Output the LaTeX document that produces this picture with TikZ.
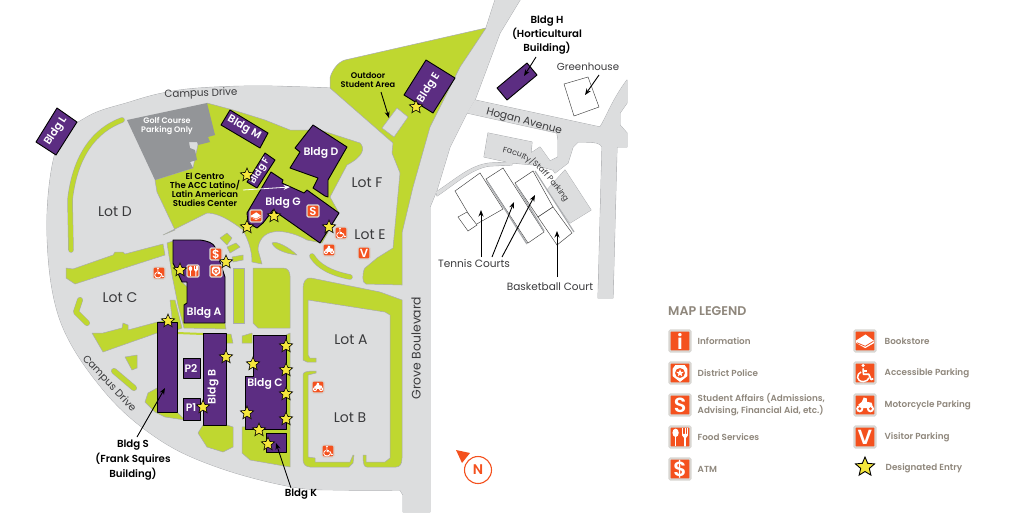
\documentclass[tikz,border=0pt]{standalone}
\usepackage{fontspec}
\setmainfont{Poppins}[BoldFont={Poppins SemiBold}]
\usetikzlibrary{shapes.geometric,arrows.meta,decorations.text}
\definecolor{roadgray}{HTML}{DCDDDE}
\definecolor{edgegray}{HTML}{A9ABAE}
\definecolor{golfgray}{HTML}{939598}
\definecolor{lawn}{HTML}{BFD730}
\definecolor{purp}{HTML}{5C2D82}
\definecolor{orng}{HTML}{F4511E}
\definecolor{boxrim}{HTML}{D8D6D2}
\definecolor{starfill}{HTML}{F5E63C}
\definecolor{legendtxt}{HTML}{8F877C}
\definecolor{mapink}{HTML}{3A3A3C}
\newcommand{\fsz}[1]{\fontsize{#1}{#1}\selectfont}
\tikzset{
  x=1pt,y=-1pt,
  lawnshape/.style={fill=lawn,draw=edgegray,line width=.5pt,line join=round},
  stripline/.style={line cap=round,line join=round},
  bldg/.style={fill=purp,draw=black,line width=.9pt,line join=round},
  bldgtxt/.style={text=white,font=\bfseries\fsz{10.8},inner sep=0pt},
  lottxt/.style={text=mapink,font=\fsz{14},inner sep=0pt},
  roadtxt/.style={text=mapink,font=\fsz{10.3},inner sep=0pt},
  labeltxt/.style={text=black,font=\bfseries\fsz{8.6},align=center,inner sep=0pt},
  outline/.style={fill=white,draw=black!75,line width=.45pt},
  pointer/.style={draw=black,line width=.9pt,-{Stealth[length=6.5pt,width=5pt]}},
  entry/.style={star,star points=5,star point ratio=2.2,minimum size=14pt,inner sep=0pt,fill=starfill,draw=black,line width=.6pt},
  iconbox/.style={fill=orng,draw=boxrim,rounded corners=1.2pt,inner sep=0pt},
  legtxt/.style={text=legendtxt,font=\bfseries\fsz{8.8},anchor=west,inner sep=0pt,align=left},
}
\newcommand{\gletter}[1]{\node[text=white,inner sep=0pt,font=\bfseries\fsz{\icf}] (\icn g) at (0,0) {#1};}
\newcommand{\glS}{\gletter{S}}
\newcommand{\glV}{\gletter{V}}
\newcommand{\gli}{\gletter{i}}
\newcommand{\gldollar}{\gletter{\$}}
\newcommand{\glbook}{%
  \fill[white] (-.85,-.05) -- (.05,-.62) -- (.85,-.02) -- (.85,.2) -- (.02,.68) -- (-.85,.18) -- cycle;
  \draw[orng,line width=\icr*.07pt] (-.78,.16) -- (.02,.5) -- (.8,.02);}
\newcommand{\glpolice}{%
  \fill[white] (-.45,-.75) -- (.45,-.75) -- (.7,-.4) -- (.7,.3) -- (0,.85) -- (-.7,.3) -- (-.7,-.4) -- cycle;
  \fill[orng] (0,0) circle[radius=.47];
  \fill[white] (0,-.36) -- (.1,-.1) -- (.36,-.1) -- (.15,.08) -- (.22,.33) -- (0,.17) -- (-.22,.33) -- (-.15,.08) -- (-.36,-.1) -- (-.1,-.1) -- cycle;}
\newcommand{\glfood}{%
  \fill[white] (-.42,-.4) circle[x radius=.3,y radius=.4];
  \fill[white] (-.5,-.1) rectangle (-.34,.9);
  \fill[white] (.2,-.85) rectangle (.28,-.2);
  \fill[white] (.44,-.85) rectangle (.52,-.2);
  \fill[white] (.68,-.85) rectangle (.76,-.2);
  \fill[white] (.2,-.3) -- (.76,-.3) -- (.76,-.15) -- (.56,.1) -- (.56,.9) -- (.4,.9) -- (.4,.1) -- (.2,-.15) -- cycle;}
\newcommand{\glaccess}{%
  \fill[white] (-.18,-.72) circle[radius=.17];
  \draw[white,line width=\icr*.16pt,line join=round] (-.18,-.45) -- (-.15,.12) -- (.36,.12) -- (.58,.62) -- (.78,.55);
  \draw[white,line width=\icr*.13pt] (-.18,-.18) -- (.22,-.18);
  \draw[white,line width=\icr*.14pt] (-.38,-.1) .. controls (-.85,.1) and (-.85,.82) .. (-.15,.82) .. controls (.12,.82) and (.3,.65) .. (.38,.45);}
\newcommand{\glmoto}{%
  \fill[white] (-.5,.36) circle[radius=.34];
  \fill[white] (.52,.36) circle[radius=.34];
  \fill[orng] (-.5,.36) circle[radius=.15];
  \fill[orng] (.52,.36) circle[radius=.15];
  \fill[white] (-.65,-.02) -- (-.3,-.3) -- (-.12,-.72) -- (.18,-.62) -- (.18,-.3) -- (.62,-.22) -- (.72,.05) -- (.2,.3) -- (-.2,.3) -- cycle;}
\newcommand{\icon}[5]{%
  \pgfmathsetmacro{\icsize}{2*#4}\pgfmathsetmacro{\icf}{1.95*#4}%
  \pgfmathsetmacro{\icrim}{#4*.2}%
  \node[iconbox,minimum size=\icsize pt,line width=\icrim pt] (#1) at (#2,#3) {};
  \begin{scope}[shift={(#2,#3)},x=#4pt,y=-#4pt]
    \def\icn{#1}\def\icr{#4}%
    \csname gl#5\endcsname
  \end{scope}}
\newcommand{\roadshapes}[1]{%
  \path[#1] (495,0) -- (520,0) -- (500,33) -- (475,100) -- (467,113) -- (450,147) -- (437,190) -- (430,207) -- (430,512) -- (403,512) -- (403,495) -- (400,490)
     -- plot[smooth,tension=.6] coordinates {(400,490) (345,490) (293,487) (220,468) (160,440) (105,392) (60,320) (47,230) (57,147) (87,117) (130,102) (163,93) (200,88) (260,86) (330,88)}
     -- (486,28) -- cycle;
  \path[#1] (475,100) -- (600,127) .. controls (606,118) and (612,100) .. (627,80) -- (627,103) -- (620,113) -- (620,125) -- (627,133) -- (627,147) -- (617,147) -- (613,298) -- (598,298) -- (602,147) .. controls (600,143) and (598,142) .. (578,142) -- (573,147) -- (568,163) -- (555,173) -- (553,170) -- (558,160) -- (558,140) -- (557,133) -- (467,113) -- cycle;
  \path[#1] (484,157) -- (488,133) -- (532,142) -- (531,153) -- (540,147) -- (550,161) -- (558,157) -- (558,164) -- (553,170) -- (535,165) -- (512,163) -- cycle;
  \path[#1] (436,192) .. controls (455,180) and (470,165) .. (490,163) -- (512,162) -- (512,165) -- (490,166) .. controls (472,168) and (455,184) .. (437,196) -- cycle;
  \path[#1] (565,170) -- (591,210) -- (570,223) -- (547,190) -- cycle;
}
\begin{document}
\begin{tikzpicture}
\useasboundingbox (0,0) rectangle (1024,512);
\fill[white] (0,0) rectangle (1024,512);
% roads, first with an edge and then filled over so that the edges merge
\roadshapes{draw=edgegray,line width=.8pt,line join=round,fill=roadgray}
\roadshapes{fill=roadgray}
% upper lawn by Grove Boulevard
\path[lawnshape] (345,60) -- (486,28) -- (460,67) -- (430,127) -- (413,187) -- (402,233) -- (402,285) -- (366,284) .. controls (362,284) and (362,272) .. (365,268) -- (377,258) -- (393,248) -- (400,173) -- (392,153) -- (393,143) -- (330,88) -- (330,78) .. controls (332,70) and (338,62) .. (345,60) -- cycle;
\path[fill=roadgray,draw=edgegray,line width=.5pt] (397,108) -- (408,117) -- (394,137) -- (382,128) -- cycle;
% central lawn
\path[lawnshape] (207,103) -- (233,110) -- (265,120) -- (290,130) -- (320,130) -- (360,143) .. controls (365,148) and (364,156) .. (347,165) -- (330,197) -- (339,213) -- (322,243) -- (307,240) .. controls (295,233) and (280,230) .. (273,232) .. controls (265,233) and (258,240) .. (258,250) -- (262,264) -- (252,262) .. controls (252,250) and (248,240) .. (243,230) .. controls (230,220) and (218,213) .. (207,213) -- (163,235) -- (175,230) -- (157,192) -- (155,180) -- (193,168) -- cycle;
\path[fill=golfgray] (127,120) -- (207,103) -- (215,135) -- (208,137) -- (210,142) -- (198,145) -- (197,142) -- (189,142) -- (190,148) -- (195,150) -- (197,160) -- (190,162) -- (193,168) -- (155,180) -- cycle;
% Lot D and Lot C strips
\draw[edgegray,line width=5.5pt,stripline] (122,120) .. controls (95,130) and (75,155) .. (70,200) -- (71,250);
\draw[lawn,line width=4.5pt,stripline] (122,120) .. controls (95,130) and (75,155) .. (70,200) -- (71,250);
\path[lawnshape] (163,244) -- (165,255) -- (75,284) -- (66,278) -- (66,268) -- (73,269) -- (113,255) -- (115,252) -- (123,252) -- (125,254) -- cycle;
\draw[edgegray,line width=6pt,stripline] (80,300) -- (76,312) -- (87,323);
\draw[lawn,line width=5pt,stripline] (80,300) -- (76,312) -- (87,323);
\path[lawnshape] (125,357) -- (137,355) -- (137,368) -- (132,370) -- cycle;
\draw[edgegray,line width=6pt,stripline] (114,371) -- (134,388);
\draw[lawn,line width=5pt,stripline] (114,371) -- (134,388);
\path[lawnshape] (92,333) -- (103,333) -- (122,328) -- (123,323) -- (128,325) -- (128,330) -- (172,318) -- (170,300) -- (175,300) -- (182,328) -- (177,330) -- (157,333) -- (137,340) -- (103,352) -- cycle;
\path[lawnshape] (145,402) -- (148,393) -- (157,388) -- (177,412) -- (185,420) -- (165,417) -- (155,412) -- cycle;
\path[lawnshape] (157,388) -- (157,412) -- (177,412) -- cycle;
% lawns near Bldg A
\path[lawnshape] (167,243) -- (173,241) -- (173,263) -- (182,282) -- (225,323) -- (226,329) -- (184,328) -- (178,305) -- (172,275) -- cycle;
\path[lawnshape] (220,238) -- (227,233) -- (232,238) -- (227,245) -- cycle;
\path[lawnshape] (227,247) -- (236,243) -- (240,247) -- (230,253) -- cycle;
\path[lawnshape] (232,257) -- (243,255) -- (243,260) -- (233,262) -- cycle;
\path[lawnshape] (233,268) -- (244,268) -- (244,323) -- (233,323) -- cycle;
\path[lawnshape] (253,268) -- (283,268) .. controls (288,268) and (290,272) .. (290,276) -- (290,328) -- (258,328) -- (253,323) -- cycle;
\path[lawnshape] (272,243) .. controls (276,240) and (290,248) .. (297,255) .. controls (288,254) and (274,250) .. (272,243) -- cycle;
\draw[edgegray,line width=5.5pt,stripline] (312,256) .. controls (318,266) and (330,273) .. (350,277);
\draw[lawn,line width=4.5pt,stripline] (312,256) .. controls (318,266) and (330,273) .. (350,277);
% lawns by Bldg B and Bldg C
\draw[lawn,line width=2pt] (177,333) -- (203,334);
\path[lawnshape] (226,334) -- (231,334) -- (233,343) -- (226,343) -- cycle;
\path[lawnshape] (198,433) -- (203,425) -- (227,425) -- (233,427) -- (233,447) -- (223,452) -- (207,447) -- cycle;
\path[lawnshape] (242,336) -- (252,333) -- (252,343) -- (242,343) -- cycle;
\path[lawnshape] (242,427) -- (280,425) -- (286,335) -- (290,333) -- (290,467) -- (250,460) -- (242,453) -- cycle;
% Lot A and Lot B frame
\path[lawnshape] (303,360) -- (303,288) .. controls (303,282) and (306,277) .. (311,278) -- (380,292) -- (402,300) -- (402,458) .. controls (402,464) and (400,467) .. (396,467) -- (367,467) .. controls (364,467) and (363,464) .. (363,455) -- (366,455) -- (366,462) -- (385,462) -- (390,458) -- (390,315) -- (385,312) -- (308,300) -- (308,355) -- (310,358) -- (316,358) -- (316,362) -- (307,362) -- cycle;
\path[lawnshape] (303,375) .. controls (303,372) and (306,371) .. (316,371) -- (316,373) -- (308,375) -- (308,457) -- (315,458) -- (315,462) -- (350,462) -- (353,455) -- (354,455) -- (353,463) -- (349,467) -- (310,467) .. controls (306,467) and (303,464) .. (303,460) -- cycle;
% buildings
\path[bldg] (57,108) -- (77,122) -- (56,155) -- (36,142) -- cycle;
\path[bldg] (230,110) -- (268,133) -- (260,148) -- (221,125) -- cycle;
\path[bldg] (265,153) -- (275,160) -- (257,188) -- (247,182) -- cycle;
\path[bldg] (313,125) -- (347,147) -- (328,180) -- (328,197) -- (325,196) -- (313,188) -- (318,178) -- (290,168) -- (300,152) -- (295,148) -- cycle;
\path[bldg] (271,172) -- (283,180) -- (282,183) -- (304,193) -- (307,190) -- (339,213) -- (320,243) -- (273,210) -- (263,223) -- (257,228) -- (248,223) -- (247,213) -- cycle;
\path[bldg] (173,240) -- (200,240) .. controls (208,241) and (213,243) .. (215,247) -- (225,277) -- (225,323) -- (184,323) -- (184,305) -- (187,303) -- (187,282) -- (182,282) -- (173,263) -- cycle;
\path[bldg] (203,333) rectangle (226,425);
\path[bldg] (157,322) rectangle (177,412);
\path[bldg] (183,358) rectangle (200,378);
\path[bldg] (183,398) rectangle (200,420);
\path[bldg] (253,335) -- (286,335) -- (286,429) -- (245,429) -- (245,376) -- (253,376) -- cycle;
\path[bldg] (266,433) rectangle (286,452);
\path[bldg] (426,60) -- (455,78) -- (433,113) -- (404,95) -- cycle;
\path[bldg] (527,63) -- (537,75) -- (507,100) -- (497,88) -- cycle;
% outlined sites
\path[outline] (564,84) -- (588,77) -- (599,107) -- (574,116) -- cycle;
\path[outline] (480,173) -- (503,209) -- (475,225) -- (455,191) -- cycle;
\path[outline] (467,212) -- (477,225) -- (468,231) -- (458,217) -- cycle;
\path[outline] (503,168) -- (544,232) -- (528,243) -- (486,179) -- cycle;
\path[outline] (533,171) -- (553,207) -- (538,217) -- (515,183) -- cycle;
\path[outline] (553,207) -- (572,233) -- (557,245) -- (538,217) -- cycle;
\draw[edgegray,line width=1.4pt] (487,181) -- (527,244);
\draw[edgegray,line width=1.4pt] (516,185) -- (544,231);
\draw[edgegray,line width=1.2pt] (535,171) -- (574,232);
% pointers
\coordinate (hfrom) at (536,57); \coordinate (hto) at (524,76);
\coordinate (gfrom) at (599,75); \coordinate (gto) at (585,95);
\coordinate (ofrom) at (381,92); \coordinate (oto) at (389,118);
\coordinate (t1from) at (481,257); \coordinate (t1to) at (481,210);
\coordinate (t2from) at (492,257); \coordinate (t2to) at (514,202);
\coordinate (t3from) at (502,257); \coordinate (t3to) at (535,195);
\coordinate (bfrom) at (557,277); \coordinate (bto) at (557,231);
\coordinate (sfrom) at (137,437); \coordinate (sto) at (165,388);
\coordinate (kfrom) at (291,488); \coordinate (kto) at (276,443);
\coordinate (efrom) at (243,190); \coordinate (eto) at (290,187);
\draw[pointer] (hfrom) -- (hto);
\draw[pointer] (gfrom) -- (gto);
\draw[pointer] (ofrom) -- (oto);
\draw[pointer] (t1from) -- (t1to);
\draw[pointer] (t2from) -- (t2to);
\draw[pointer] (t3from) -- (t3to);
\draw[pointer] (bfrom) -- (bto);
\draw[pointer] (sfrom) -- (sto);
\draw[pointer] (kfrom) -- (kto);
\draw[pointer,draw=white,line width=.8pt] (efrom) -- (eto);
% building names
\node[bldgtxt,rotate=57] (nl) at (56,131) {Bldg L};
\node[bldgtxt,rotate=-30] (nm) at (244,128) {Bldg M};
\node[bldgtxt,rotate=58,font=\bfseries\fsz{9.5}] (nf) at (260,171) {Bldg F};
\node[bldgtxt] (nd) at (321,153) {Bldg D};
\node[bldgtxt] (ng) at (283,203) {Bldg G};
\node[bldgtxt] (na) at (204,313) {Bldg A};
\node[bldgtxt,rotate=90] (nb) at (213,387) {Bldg B};
\node[bldgtxt] (nc) at (265,384) {Bldg C};
\node[bldgtxt] (np2) at (191,368) {P2};
\node[bldgtxt] (np1) at (191,408) {P1};
\node[bldgtxt,rotate=58] (ne) at (429,88) {Bldg E};
\node[bldgtxt,text=white,font=\bfseries\fsz{8},align=center] (golf) at (167,126) {Golf Course\\[1pt]Parking Only};
% lot names
\node[lottxt] (lotd) at (115,212) {Lot D};
\node[lottxt] (lotc) at (120,298) {Lot C};
\node[lottxt] (lotf) at (367,183) {Lot F};
\node[lottxt] (lote) at (370,235) {Lot E};
\node[lottxt] (lota) at (351,340) {Lot A};
\node[lottxt] (lotb) at (350,418) {Lot B};
% road and site names
\node[roadtxt,rotate=2] (cd1) at (201,94) {Campus Drive};
\node[roadtxt,rotate=-47] (cd2) at (109,384) {Campus Drive};
\node[roadtxt,rotate=90,font=\fsz{12.4}] (grove) at (416,348) {Grove Boulevard};
\node[roadtxt,rotate=-15,font=\fsz{10.6}] (hogan) at (524,122) {Hogan Avenue};
\path[decorate,decoration={text along path,text align=center,text={|\fsz{8}\color{mapink}|Faculty/Staff Parking}}] (497,151) .. controls (525,156) and (540,165) .. (568,207);
\node[roadtxt,font=\fsz{10.2}] (green) at (588,67) {Greenhouse};
\node[roadtxt,font=\fsz{10.6}] (tennis) at (474,264) {Tennis Courts};
\node[roadtxt,font=\fsz{10.5}] (bball) at (550,287) {Basketball Court};
\node[labeltxt] (elcentro) at (205,190) {El Centro\\[.2pt]The ACC Latino/\\[.2pt]Latin American\\[.2pt]Studies Center};
\node[labeltxt,font=\bfseries\fsz{8.2}] (outdoor) at (368,80) {Outdoor\\[.2pt]Student Area};
\node[labeltxt,font=\bfseries\fsz{10.2}] (bh) at (547,35) {Bldg H\\[1.5pt](Horticultural\\[1.5pt]Building)};
\node[labeltxt,font=\bfseries\fsz{10.2}] (bs) at (133,460) {Bldg S\\[1.5pt](Frank Squires\\[1.5pt]Building)};
\node[labeltxt,font=\bfseries\fsz{10.2}] (bk) at (301,494) {Bldg K};
% map icons
\icon{ibook}{256}{216}{6}{book}
\icon{is}{313}{211}{6}{S}
\icon{iacc1}{341}{233}{6}{access}
\icon{imoto1}{329}{250}{6}{moto}
\icon{iv1}{364}{253}{6}{V}
\icon{iatm}{216}{254}{6}{dollar}
\icon{ipol}{216}{271}{6}{police}
\icon{ifood}{193}{271}{6}{food}
\icon{iacc2}{159}{273}{6}{access}
\icon{imoto2}{318}{387}{6}{moto}
\icon{iacc3}{328}{451}{6}{access}
% designated entries
\foreach \nm/\px/\py in {s1/247/175,s2/274/216,s3/247/227,s4/329/227,s5/226/262,s6/180/270,s7/416/107,s8/168/321,s9/226/357,s10/203/407,s11/253/364,s12/286/346,s13/286/370,s14/286/394,s15/286/419,s16/247/413,s17/259/430,s18/268/444}
  \node[entry] (\nm) at (\px,\py) {};
% compass
\node[draw=orng,line width=1.1pt,circle,minimum size=27pt,inner sep=0pt,text=orng,font=\bfseries\fsz{14}] (compass) at (478,470) {N};
\fill[orng] (456,450) -- (470,453) -- (462,463) -- cycle;
% legend
\node[text=legendtxt,font=\bfseries\fsz{12.6},anchor=west,inner sep=0pt] (legtitle) at (668,311) {MAP LEGEND};
\icon{li}{680}{341}{10.5}{i}
\icon{lp}{680}{373}{10.5}{police}
\icon{ls}{680}{405}{10.5}{S}
\icon{lf}{680}{437}{10.5}{food}
\icon{la}{680}{469}{10.5}{dollar}
\icon{lb}{865}{341}{10.5}{book}
\icon{lc}{865}{373}{10.5}{access}
\icon{lm}{865}{405}{10.5}{moto}
\icon{lv}{865}{437}{10.5}{V}
\node[entry,minimum size=20pt,line width=.9pt] (lstar) at (865,467) {};
\node[legtxt] (t1) at (697.5,341.5) {Information};
\node[legtxt] (t2) at (697.5,373) {District Police};
\node[legtxt] (t3) at (697.5,405) {Student Affairs (Admissions,\\[1pt]Advising, Financial Aid, etc.)};
\node[legtxt] (t4) at (697.5,437) {Food Services};
\node[legtxt] (t5) at (697.5,469) {ATM};
\node[legtxt] (t6) at (884.5,341.5) {Bookstore};
\node[legtxt] (t7) at (884.5,373) {Accessible Parking};
\node[legtxt] (t8) at (884.5,405) {Motorcycle Parking};
\node[legtxt] (t9) at (884.5,437) {Visitor Parking};
\node[legtxt] (t10) at (885.5,468) {Designated Entry};
\end{tikzpicture}
\end{document}
